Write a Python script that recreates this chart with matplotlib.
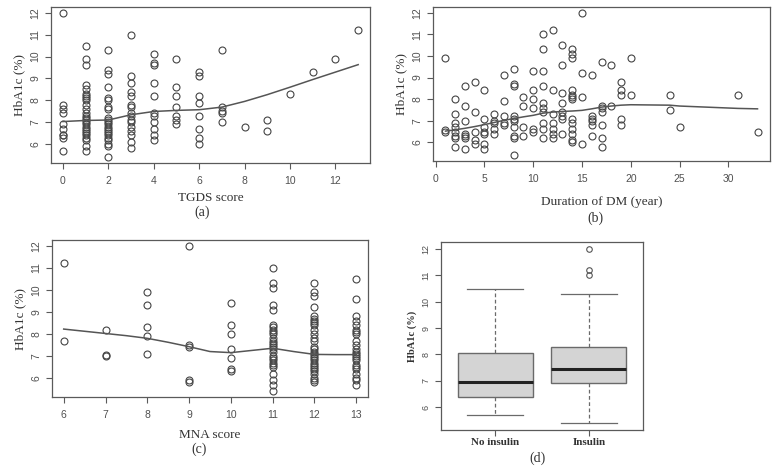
import matplotlib
matplotlib.use('Agg')
import matplotlib.pyplot as plt
import numpy as np

# ---- data ----
# (a) HbA1c by TGDS score
tgds_scores = [0, 1, 2, 3, 4, 5, 6, 7, 8, 9, 10, 11, 12, 13]
tgds_hba1c = [
    [12.0, 7.8, 7.6, 7.4, 6.9, 6.7, 6.4, 6.3, 6.4, 5.7],
    [10.5, 9.9, 9.6, 8.7, 8.5, 8.3, 8.2, 8.1, 8.0, 7.8, 7.6, 7.4, 7.3, 7.2, 7.1,
     7.0, 6.9, 6.8, 6.7, 6.6, 6.5, 6.4, 6.3, 6.2, 5.9, 5.7],
    [10.3, 9.4, 9.2, 8.6, 8.1, 8.0, 7.7, 7.6, 7.2, 7.1, 7.0, 6.9, 6.8, 6.7, 6.6,
     6.5, 6.4, 6.3, 6.2, 6.0, 5.9, 5.4],
    [11.0, 9.1, 8.8, 8.4, 8.2, 7.8, 7.7, 7.4, 7.3, 7.1, 7.0, 6.8, 6.6, 6.4, 6.1, 5.8],
    [10.1, 9.7, 9.6, 8.8, 8.2, 7.4, 7.3, 7.0, 6.7, 6.4, 6.2],
    [9.9, 8.6, 8.2, 7.7, 7.3, 7.1, 6.9],
    [9.3, 9.1, 8.2, 7.9, 7.3, 6.7, 6.3, 6.0],
    [10.3, 7.7, 7.5, 7.4, 7.0],
    [6.8],
    [7.1, 6.6],
    [8.3],
    [9.3],
    [9.9],
    [11.2],
]
tgds_smooth_x = [0, 1, 2, 3, 4, 5, 6, 7, 8, 9, 10, 11, 12, 13]
tgds_smooth_y = [7.03, 7.08, 7.10, 7.34, 7.49, 7.54, 7.57, 7.69, 7.95, 8.26,
                 8.60, 8.95, 9.29, 9.63]

# (b) HbA1c by duration of DM (years)
dm_years = [1, 2, 3, 4, 5, 6, 7, 8, 9, 10, 11, 12, 13, 14, 15, 16, 17, 18, 19,
            20, 24, 25, 31, 33]
dm_hba1c = [
    [9.9, 6.55, 6.5],
    [8.0, 7.3, 6.9, 6.7, 6.5, 6.3, 6.2, 5.8],
    [8.6, 7.7, 7.0, 6.4, 6.3, 6.2, 5.7],
    [8.8, 7.4, 6.5, 6.1, 5.9],
    [8.4, 7.1, 6.7, 6.5, 6.4, 5.9, 5.7],
    [7.3, 7.0, 6.9, 6.6, 6.4],
    [9.1, 7.9, 7.2, 6.9, 6.8],
    [9.4, 8.7, 8.6, 7.2, 7.1, 7.0, 6.7, 6.3, 6.2, 5.4],
    [8.1, 7.7, 6.7, 6.3],
    [9.3, 8.4, 8.0, 7.6, 6.6, 6.5],
    [11.0, 10.3, 9.3, 8.6, 7.8, 7.6, 7.4, 6.9, 6.6, 6.2],
    [11.2, 8.4, 7.3, 6.9, 6.6, 6.4, 6.2],
    [10.5, 9.6, 8.3, 7.8, 7.4, 7.2, 7.1, 6.4],
    [10.3, 10.1, 9.9, 8.4, 8.2, 8.1, 8.0, 7.1, 6.9, 6.6, 6.4, 6.1, 6.0],
    [12.0, 9.2, 8.1, 5.9],
    [9.1, 7.2, 7.1, 7.0, 6.8, 6.3],
    [9.7, 7.7, 7.6, 7.4, 6.8, 6.2, 5.8],
    [9.6, 7.7],
    [8.8, 8.4, 8.2, 7.1, 6.8],
    [9.9, 8.2],
    [8.2, 7.5],
    [6.7],
    [8.2],
    [6.5],
]
dm_smooth_x = [1, 2, 3, 4, 5, 6, 7, 8, 9, 10, 11, 12, 13, 14, 15, 16, 17, 18,
               19, 20, 24, 25, 31, 33]
dm_smooth_y = [6.52, 6.58, 6.65, 6.73, 6.82, 6.92, 7.02, 7.10, 7.18, 7.25, 7.35,
               7.40, 7.43, 7.45, 7.48, 7.55, 7.63, 7.68, 7.72, 7.74, 7.72, 7.68,
               7.57, 7.55]

# (c) HbA1c by MNA score
mna_scores = [6, 7, 8, 9, 10, 11, 12, 13]
mna_hba1c = [
    [11.2, 7.7],
    [8.2, 7.05, 7.0],
    [9.9, 9.3, 8.3, 7.9, 7.1],
    [12.0, 7.5, 7.4, 5.9, 5.8],
    [9.4, 8.4, 8.0, 7.3, 6.9, 6.4, 6.3],
    [11.0, 10.3, 10.1, 9.3, 9.1, 8.4, 8.3, 8.2, 8.1, 8.0, 7.8, 7.7, 7.6, 7.5,
     7.4, 7.3, 7.2, 7.0, 6.9, 6.8, 6.7, 6.6, 6.5, 6.2, 5.9, 5.7, 5.4],
    [10.3, 9.9, 9.7, 9.2, 8.8, 8.7, 8.6, 8.5, 8.4, 8.2, 8.0, 7.8, 7.7, 7.4, 7.3,
     7.2, 7.1, 7.0, 6.9, 6.8, 6.7, 6.6, 6.5, 6.4, 6.3, 6.2, 6.0, 5.9, 5.8],
    [10.5, 9.6, 8.8, 8.6, 8.4, 8.2, 8.1, 8.0, 7.7, 7.5, 7.3, 7.2, 7.1, 7.0, 6.9,
     6.8, 6.6, 6.5, 6.4, 6.2, 6.0, 5.9, 5.7],
]
mna_smooth_x = [6, 6.5, 7, 7.5, 8, 8.5, 9, 9.5, 10, 10.5, 11, 11.5, 12, 12.5, 13]
mna_smooth_y = [8.22, 8.12, 8.02, 7.92, 7.80, 7.62, 7.42, 7.20, 7.15, 7.25, 7.35,
                7.20, 7.07, 7.06, 7.06]

# (d) boxplot summaries
groups = ['No insulin', 'Insulin']
whisker_low = [5.7, 5.4]
q1 = [6.4, 6.9]
medians = [6.95, 7.45]
q3 = [8.05, 8.3]
whisker_high = [10.5, 10.3]
outliers = [[], [12.0, 11.2, 11.0]]

# ---- style ----
SERIF = 'Liberation Serif'
SANS = 'Liberation Sans'
EDGE = '#5a5a5a'
PT = '#444444'
TICKC = '#505050'


def r_style(ax, fs=7.5):
    for s in ax.spines.values():
        s.set_color(EDGE)
        s.set_linewidth(0.9)
    ax.tick_params(direction='out', length=4, width=0.8, color=EDGE,
                   labelsize=fs, labelcolor=TICKC)
    ax.tick_params(axis='x', pad=5)
    for lab in ax.get_xticklabels() + ax.get_yticklabels():
        lab.set_family(SANS)
    for lab in ax.get_yticklabels():
        lab.set_rotation(90)
        lab.set_va('center')


def scatter_panel(ax, xs, groups_y, sx, sy, xlim, xticks):
    for x, ys in zip(xs, groups_y):
        ax.plot([x] * len(ys), ys, 'o', ms=5, mfc='none', mec=PT, mew=0.8)
    ax.plot(sx, sy, color='#555555', lw=1.1)
    ax.set_xlim(*xlim)
    ax.set_ylim(5.136, 12.264)
    ax.set_xticks(xticks)
    ax.set_yticks([6, 7, 8, 9, 10, 11, 12])
    r_style(ax)
    ax.set_ylabel('HbA1c (%)', family=SERIF, fontsize=9.5, color='#333333',
                  labelpad=4)


fig = plt.figure(figsize=(7.72, 4.70), dpi=100)

ax_a = fig.add_axes([51 / 772, 1 - 163 / 470, 319 / 772, 156 / 470])
scatter_panel(ax_a, tgds_scores, tgds_hba1c, tgds_smooth_x, tgds_smooth_y,
              (-0.52, 13.52), [0, 2, 4, 6, 8, 10, 12])
ax_a.set_xlabel('TGDS score', family=SERIF, fontsize=9.5, color='#333333',
                labelpad=5)

ax_b = fig.add_axes([433 / 772, 1 - 161 / 470, 337 / 772, 154 / 470])
scatter_panel(ax_b, dm_years, dm_hba1c, dm_smooth_x, dm_smooth_y,
              (-0.28, 34.28), [0, 5, 10, 15, 20, 25, 30])
ax_b.set_xlabel('Duration of DM (year)', family=SERIF, fontsize=9.5,
                color='#333333', labelpad=9)

ax_c = fig.add_axes([52 / 772, 1 - 397 / 470, 316 / 772, 157 / 470])
scatter_panel(ax_c, mna_scores, mna_hba1c, mna_smooth_x, mna_smooth_y,
              (5.72, 13.28), mna_scores)
ax_c.set_xlabel('MNA score', family=SERIF, fontsize=9.5, color='#333333',
                labelpad=7)

ax_d = fig.add_axes([441 / 772, 1 - 430 / 470, 202 / 772, 188 / 470])
stats = []
for i, g in enumerate(groups):
    stats.append(dict(label=g, whislo=whisker_low[i], q1=q1[i], med=medians[i],
                      q3=q3[i], whishi=whisker_high[i], fliers=outliers[i]))
ax_d.bxp(stats, positions=[1, 2], widths=0.8, patch_artist=True,
         boxprops=dict(facecolor='#d4d4d4', edgecolor='#6a6a6a', lw=1.0),
         medianprops=dict(color='#222222', lw=2.2),
         whiskerprops=dict(color='#6a6a6a', lw=0.9, ls=(0, (3, 2))),
         capprops=dict(color='#6a6a6a', lw=0.9),
         flierprops=dict(marker='o', ms=4, mfc='none', mec='#555555', mew=0.8),
         capwidths=0.6)
ax_d.set_xlim(0.42, 2.58)
ax_d.set_ylim(5.136, 12.264)
ax_d.set_yticks([6, 7, 8, 9, 10, 11, 12])
r_style(ax_d, fs=6.5)
for lab in ax_d.get_xticklabels():
    lab.set_family(SERIF)
    lab.set_fontsize(8)
    lab.set_color('#333333')
    lab.set_fontweight('bold')
ax_d.tick_params(axis='x', pad=2)
ax_d.set_ylabel('HbA1c (%)', family=SERIF, fontsize=7.5, color='#333333',
                fontweight='bold', labelpad=3)

# panel captions
cap = dict(family=SERIF, fontsize=10, color='#333333', ha='center', va='center')
fig.text(202 / 772, 1 - 212 / 470, '(a)', **cap)
fig.text(595 / 772, 1 - 218 / 470, '(b)', **cap)
fig.text(199 / 772, 1 - 449 / 470, '(c)', **cap)
fig.text(537 / 772, 1 - 458 / 470, '(d)', **cap)

fig.savefig('out.png', dpi=100)
